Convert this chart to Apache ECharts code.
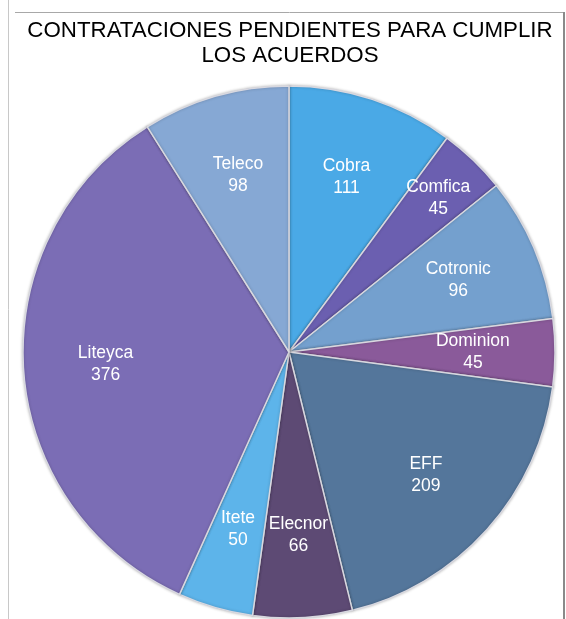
<!DOCTYPE html>
<html><head><meta charset="utf-8">
<script src="https://cdn.jsdelivr.net/npm/echarts@6/dist/echarts.min.js"></script>
<style>html,body{margin:0;padding:0;background:#fff}#c{width:566px;height:619px}</style>
</head><body><div id="c"></div>
<script>
const categories = ['Cobra','Comfica','Cotronic','Dominion','EFF','Elecnor','Itete','Liteyca','Teleco'];
const values = [111,45,96,45,209,66,50,376,98];
const colors = ['#4aa9e6','#6b5fb0','#74a0ce','#8a5a9a','#54769b','#5d4a74','#5db4ea','#7b6db5','#86a8d4'];
const titleText = 'CONTRATACIONES PENDIENTES PARA CUMPLIR\nLOS ACUERDOS';

const data = categories.map((n,i)=>({name:n,value:values[i],itemStyle:{color:colors[i]}}));
const labelData = categories.map((n,i)=>({name:n,value:values[i]}));
const cx = 289, cy = 352, R = 266;
const total = values.reduce((a,b)=>a+b,0);

const chart = echarts.init(document.getElementById('c'), null, {renderer:'canvas'});
chart.setOption({
  animation:false,
  backgroundColor:'#fff',
  title:{text:titleText,left:285,textAlign:'center',top:13,
    textStyle:{fontFamily:'Liberation Sans, Arial, sans-serif',fontSize:22.3,fontWeight:'normal',color:'#000',lineHeight:25}},
  graphic:[
    {type:'line',shape:{x1:8.5,y1:0,x2:8.5,y2:619},style:{stroke:'#c8c8c8',lineWidth:1}},
    {type:'line',shape:{x1:15,y1:12.5,x2:564,y2:12.5},style:{stroke:'#a8a8a8',lineWidth:1}},
    {type:'line',shape:{x1:564,y1:12,x2:564,y2:619},style:{stroke:'#8a8a8a',lineWidth:2}}
  ],
  series:[
    {type:'pie',center:[cx,cy],radius:[0,R],startAngle:90,clockwise:true,
     silent:true,label:{show:false},labelLine:{show:false},
     itemStyle:{borderColor:'#d8d8e0',borderWidth:1.5,shadowBlur:3,shadowColor:'rgba(0,0,0,0.25)'},
     data:data},
    {type:'pie',center:[cx,cy],radius:[R*0.36,R],startAngle:90,clockwise:true,
     silent:true,itemStyle:{color:'rgba(0,0,0,0)'},
     label:{show:true,position:'inside',formatter:'{b}\n{c}',color:'#fff',
       fontFamily:'Liberation Sans, Arial, sans-serif',fontSize:17.5,lineHeight:22,textBorderWidth:0},
     labelLine:{show:false},
     labelLayout:function(p){
       if(p.dataIndex!==1) return {};
       let cum=0; for(let i=0;i<p.dataIndex;i++) cum+=values[i];
       const a=(cum+values[p.dataIndex]/2)/total*2*Math.PI;
       const r=R*0.81;
       return {x:cx+r*Math.sin(a), y:cy-r*Math.cos(a)+2, align:'center', verticalAlign:'middle'};
     },
     data:labelData}
  ]
});
</script></body></html>
